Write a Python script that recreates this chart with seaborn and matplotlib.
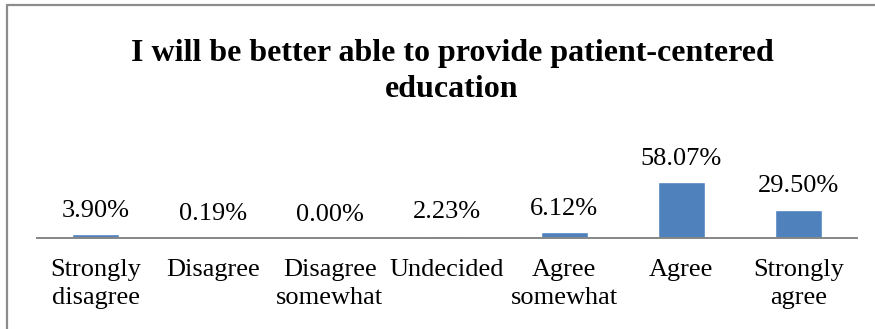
import matplotlib
matplotlib.use("Agg")
import matplotlib.pyplot as plt
from matplotlib.lines import Line2D
import seaborn as sns
import pandas as pd

# Survey responses
categories = ["Strongly\ndisagree", "Disagree", "Disagree\nsomewhat", "Undecided",
              "Agree\nsomewhat", "Agree", "Strongly\nagree"]
percentages = [3.90, 0.19, 0.00, 2.23, 6.12, 58.07, 29.50]
value_labels = ["3.90%", "0.19%", "0.00%", "2.23%", "6.12%", "58.07%", "29.50%"]
title = "I will be better able to provide patient-centered\neducation"

sns.set_style("white")
plt.rcParams["font.family"] = ["Liberation Serif", "DejaVu Serif"]

W, H = 875, 329
fig = plt.figure(figsize=(W / 100, H / 100), dpi=100)

ax_left, ax_right = 37, 857
ax_bottom, ax_top = 238, 238 - 70 * 0.96
ax = fig.add_axes([ax_left / W, (H - ax_bottom) / H,
                   (ax_right - ax_left) / W, (ax_bottom - ax_top) / H])

df = pd.DataFrame({"category": categories, "pct": percentages})
sns.barplot(data=df, x="category", y="pct", color="#4F81BD", width=0.4,
            saturation=1, ax=ax)

ax.set_ylim(0, 70)
ax.set_xlim(-0.5, len(categories) - 0.5)
ax.set_xlabel("")
ax.set_ylabel("")
ax.set_yticks([])
for side in ("top", "right", "left"):
    ax.spines[side].set_visible(False)
ax.spines["bottom"].set_color("#868686")
ax.spines["bottom"].set_linewidth(1.4)
ax.tick_params(axis="x", length=0, pad=15, labelsize=19)
for lbl in ax.get_xticklabels():
    lbl.set_linespacing(1.38)
    lbl.set_color("black")

for i, (v, txt) in enumerate(zip(percentages, value_labels)):
    ax.annotate(txt, xy=(i, v), xytext=(0, 12.5), textcoords="offset points",
                ha="center", va="baseline", fontsize=19, color="black")

fig.text(452 / W, 1 - 39 / H, title, ha="center", va="top",
         fontsize=23, fontweight="bold", linespacing=1.33, color="black")

# Chart frame (left and top edges)
frame_color = "#8C8C8C"
fig.add_artist(Line2D([7 / W, 7 / W], [0, 1 - 5 / H], transform=fig.transFigure,
                      color=frame_color, linewidth=1.6))
fig.add_artist(Line2D([7 / W, 1], [1 - 5 / H, 1 - 5 / H], transform=fig.transFigure,
                      color=frame_color, linewidth=1.6))

fig.savefig("out.png", dpi=100)
